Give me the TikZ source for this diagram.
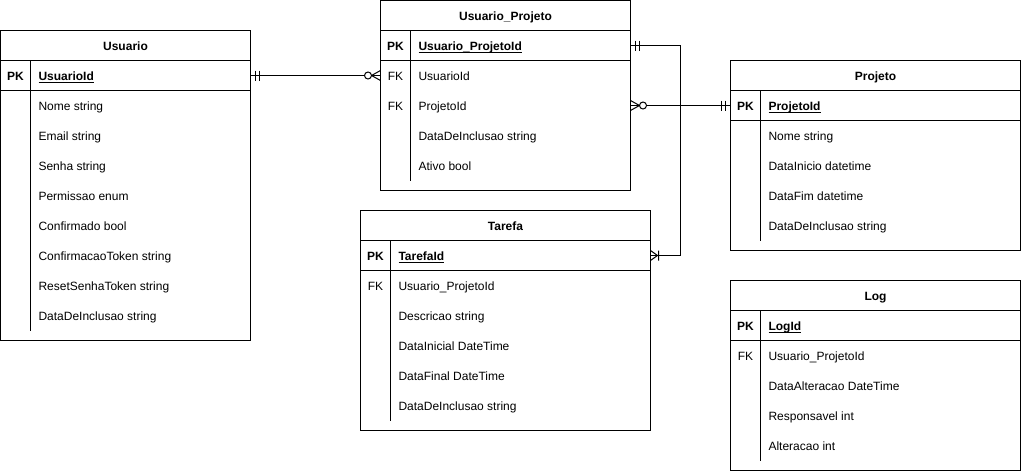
\documentclass[tikz,border=0pt]{standalone}
\usepackage{fontspec}
\setmainfont{Liberation Sans}

% underline that ignores descenders
\newcommand\keyul[1]{\setbox0\hbox{#1}\rlap{\rule[-2pt]{\wd0}{0.8pt}}\box0}

% entity table: name, left, top, width, height, title, primary key, rows (key/field)
\newcommand\ertable[8]{%
  \draw[fill=white] (#2,#3) rectangle ++(#4,#5);
  \node[rowbox, minimum width=#4pt] (#1-title) at (#2,#3) {};
  \node[txt, font=\fontsize{12}{14}\selectfont\bfseries] at (#2+#4/2,#3+15) {#6};
  \draw (#2,#3+30) -- ++(#4,0);
  \node[rowbox, minimum width=#4pt] (#1-pk) at (#2,#3+30) {};
  \node[txt, font=\fontsize{12}{14}\selectfont\bfseries] at (#2+15,#3+45) {PK};
  \node[fieldtxt, font=\fontsize{12}{14}\selectfont\bfseries] at (#2+38,#3+45) {\keyul{#7}};
  \draw (#2,#3+60) -- ++(#4,0);
  \draw (#2+30,#3+30) -- (#2+30,#3+#5-10);
  \foreach \ky/\fd [count=\i] in {#8} {
    \node[rowbox, minimum width=#4pt] (#1-r\i) at (#2,#3+30+30*\i) {};
    \node[txt] at (#2+15,#3+45+30*\i) {\ky};
    \node[fieldtxt] at (#2+38,#3+45+30*\i) {\fd};
  }%
}

% relationship ends (x points away from the entity)
\newcommand\relone[2]{\begin{scope}[shift={(#1)}, xscale=#2]
  \draw (5,-5) -- (5,5) (9,-5) -- (9,5);\end{scope}}
\newcommand\relzeromany[2]{\begin{scope}[shift={(#1)}, xscale=#2]
  \draw (0,-5) -- (9,0) -- (0,5);
  \draw[fill=white] (12.5,0) circle[radius=3.5];\end{scope}}
\newcommand\relonemany[2]{\begin{scope}[shift={(#1)}, xscale=#2]
  \draw (0,-5) -- (7,0) -- (0,5) (8,-5) -- (8,5);\end{scope}}

\begin{document}
\begin{tikzpicture}[x=1pt, y=-1pt, line width=1pt,
  every node/.style={inner sep=0pt, outer sep=0pt},
  txt/.style={font=\fontsize{12}{14}\selectfont, text height=10pt, text depth=0pt},
  fieldtxt/.style={txt, anchor=west},
  rowbox/.style={minimum height=30pt, anchor=north west},
  link/.style={draw, line width=1pt}]

\fill[white] (-0.5,-0.5) rectangle (1020.5,470.5);
\useasboundingbox (-0.5,-0.5) rectangle (1020.5,470.5);

\ertable{usu}{0}{30}{250}{310}{Usuario}{UsuarioId}{%
  {}/Nome string, {}/Email string, {}/Senha string, {}/Permissao enum,
  {}/Confirmado bool, {}/ConfirmacaoToken string, {}/ResetSenhaToken string,
  {}/DataDeInclusao string}

\ertable{up}{380}{0}{250}{190}{Usuario\_Projeto}{Usuario\_ProjetoId}{%
  FK/UsuarioId, FK/ProjetoId, {}/DataDeInclusao string, {}/Ativo bool}

\ertable{pro}{730}{60}{290}{190}{Projeto}{ProjetoId}{%
  {}/Nome string, {}/DataInicio datetime, {}/DataFim datetime,
  {}/DataDeInclusao string}

\ertable{tar}{360}{210}{290}{220}{Tarefa}{TarefaId}{%
  FK/Usuario\_ProjetoId, {}/Descricao string, {}/DataInicial DateTime,
  {}/DataFinal DateTime, {}/DataDeInclusao string}

\ertable{log}{730}{280}{290}{190}{Log}{LogId}{%
  FK/Usuario\_ProjetoId, {}/DataAlteracao DateTime, {}/Responsavel int,
  {}/Alteracao int}

% relationships
\draw[link] (usu-pk.east) -- (up-r1.west);
\draw[link] (up-pk.east) -- ++(50,0) |- (tar-pk.east);
\draw[link] (up-r2.east) -- (pro-pk.west);

\relone{usu-pk.east}{1}
\relzeromany{up-r1.west}{-1}
\relone{up-pk.east}{1}
\relonemany{tar-pk.east}{1}
\relzeromany{up-r2.east}{1}
\relone{pro-pk.west}{-1}

\end{tikzpicture}
\end{document}
